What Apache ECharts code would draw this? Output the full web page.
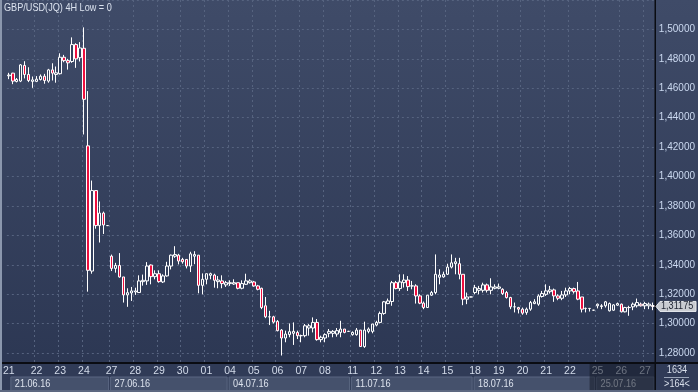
<!DOCTYPE html>
<html><head><meta charset="utf-8">
<script src="https://cdn.jsdelivr.net/npm/echarts@6/dist/echarts.min.js"></script>
<style>html,body{margin:0;padding:0;background:#35415e;overflow:hidden}#c{width:698px;height:392px}</style>
</head><body><div id="c"></div>
<script>
// ---------- data ----------
const titleText = 'GBP/USD(JQ) 4H Low = 0';
const dayLabels = ['21','22','23','24','27','28','29','30','01','04','05','06','07','08','11','12','13','14','15','18','19','20','21','22','25','26','27'];
const barsPerDay = [7,6,6,7,6,6,6,6,6,6,6,6,6,7,6,6,6,6,7,6,6,6,6,7,6,6,3];
const weekLabels = ['21.06.16','27.06.16','04.07.16','11.07.16','18.07.16','25.07.16'];
const weekStartDay = [0,4,9,14,19,24];
const yMin = 1.26, yMax = 1.52, yStep = 0.02;
const lastPrice = 1.31175;
const counterTop = '1634', counterBottom = '>164<';

const openP = [1.4685,1.4703,1.4646,1.4649,1.4755,1.4694,1.4647,1.4647,1.4660,1.4682,
1.4649,1.4725,1.4694,1.4699,1.4811,1.4788,1.4782,1.4897,1.4808,1.4872,
1.4209,1.3358,1.3905,1.3667,1.3752,1.3667,1.3459,1.3376,1.3396,1.3318,
1.3196,1.3209,1.3216,1.3212,1.3286,1.3291,1.3399,1.3320,1.3340,1.3284,
1.3325,1.3392,1.3459,1.3466,1.3437,1.3437,1.3392,1.3459,1.3466,1.3261,
1.3302,1.3329,1.3331,1.3286,1.3291,1.3264,1.3273,1.3270,1.3279,1.3241,
1.3268,1.3279,1.3284,1.3257,1.3241,1.3122,1.3047,1.3047,1.3016,1.2957,
1.2903,1.2926,1.2935,1.2941,1.2919,1.2919,1.2971,1.2971,1.3009,1.2892,
1.2903,1.2935,1.2935,1.2930,1.2941,1.2964,1.2948,1.2926,1.2926,1.2957,
1.2845,1.2948,1.2948,1.2991,1.3009,1.3070,1.3137,1.3151,1.3279,1.3239,
1.3279,1.3297,1.3257,1.3257,1.3189,1.3140,1.3110,1.3194,1.3212,1.3316,
1.3318,1.3336,1.3385,1.3408,1.3408,1.3336,1.3167,1.3182,1.3212,1.3227,
1.3227,1.3264,1.3227,1.3241,1.3241,1.3234,1.3212,1.3178,1.3115,1.3110,
1.3099,1.3077,1.3099,1.3137,1.3133,1.3185,1.3200,1.3218,1.3230,1.3189,
1.3173,1.3196,1.3223,1.3239,1.3223,1.3182,1.3104,1.3104,1.3092,1.3122,
1.3117,1.3122,1.3088,1.3092,1.3126,1.3133,1.3081,1.3110,1.3115,1.3122,
1.3133,1.3122,1.3122,1.3124];
const closeP = [1.4690,1.4649,1.4660,1.4759,1.4694,1.4653,1.4657,1.4662,1.4682,1.4653,
1.4725,1.4703,1.4705,1.4811,1.4788,1.4773,1.4897,1.4800,1.4874,1.4525,
1.3363,1.3905,1.3667,1.3752,1.3671,1.3667,1.3376,1.3396,1.3318,1.3196,
1.3211,1.3223,1.3223,1.3291,1.3295,1.3392,1.3320,1.3340,1.3286,1.3325,
1.3392,1.3466,1.3470,1.3426,1.3421,1.3392,1.3475,1.3470,1.3261,1.3302,
1.3340,1.3340,1.3295,1.3297,1.3273,1.3279,1.3279,1.3279,1.3241,1.3273,
1.3291,1.3291,1.3257,1.3234,1.3110,1.3047,1.3047,1.3011,1.2953,1.2903,
1.2930,1.2946,1.2948,1.2919,1.2919,1.2986,1.2986,1.3009,1.2892,1.2908,
1.2926,1.2948,1.2948,1.2953,1.2964,1.2941,1.2948,1.2941,1.2957,1.2845,
1.2957,1.2964,1.2998,1.3009,1.3070,1.3149,1.3155,1.3279,1.3239,1.3284,
1.3297,1.3252,1.3257,1.3189,1.3140,1.3110,1.3194,1.3212,1.3336,1.3331,
1.3336,1.3385,1.3414,1.3421,1.3336,1.3167,1.3182,1.3182,1.3245,1.3239,
1.3264,1.3227,1.3250,1.3250,1.3250,1.3205,1.3178,1.3115,1.3115,1.3099,
1.3072,1.3099,1.3144,1.3149,1.3189,1.3205,1.3223,1.3230,1.3189,1.3173,
1.3196,1.3223,1.3239,1.3218,1.3167,1.3099,1.3104,1.3104,1.3092,1.3133,
1.3122,1.3149,1.3137,1.3128,1.3137,1.3081,1.3110,1.3110,1.3133,1.3144,
1.3122,1.3137,1.3133,1.31175];
const lowP = [1.4662,1.4628,1.4640,1.4642,1.4667,1.4642,1.4603,1.4642,1.4653,1.4631,
1.4638,1.4653,1.4638,1.4694,1.4777,1.4727,1.4773,1.4739,1.4782,1.4286,
1.3218,1.3340,1.3646,1.3552,1.3610,1.3664,1.3358,1.3347,1.3313,1.3144,
1.3115,1.3155,1.3196,1.3212,1.3259,1.3264,1.3268,1.3302,1.3279,1.3277,
1.3320,1.3369,1.3448,1.3403,1.3408,1.3376,1.3351,1.3405,1.3207,1.3200,
1.3268,1.3302,1.3245,1.3241,1.3241,1.3250,1.3257,1.3264,1.3234,1.3234,
1.3264,1.3273,1.3252,1.3227,1.3099,1.3038,1.2991,1.3002,1.2948,1.2784,
1.2874,1.2908,1.2856,1.2896,1.2874,1.2908,1.2919,1.2941,1.2885,1.2874,
1.2874,1.2908,1.2908,1.2912,1.2908,1.2935,1.2944,1.2919,1.2919,1.2845,
1.2836,1.2935,1.2935,1.2982,1.3002,1.3061,1.3133,1.3122,1.3234,1.3223,
1.3246,1.3223,1.3234,1.3137,1.3133,1.3099,1.3110,1.3189,1.3200,1.3268,
1.3313,1.3331,1.3376,1.3336,1.3302,1.3126,1.3133,1.3180,1.3200,1.3200,
1.3212,1.3212,1.3200,1.3234,1.3234,1.3196,1.3171,1.3099,1.3077,1.3070,
1.3061,1.3061,1.3088,1.3133,1.3122,1.3178,1.3189,1.3205,1.3149,1.3160,
1.3160,1.3182,1.3200,1.3205,1.3160,1.3077,1.3077,1.3083,1.3090,1.3104,
1.3099,1.3110,1.3083,1.3088,1.3122,1.3077,1.3077,1.3054,1.3092,1.3110,
1.3117,1.3099,1.3099,1.3092];
const highP = [1.4705,1.4705,1.4670,1.4765,1.4784,1.4743,1.4680,1.4683,1.4694,1.4698,
1.4732,1.4770,1.4748,1.4838,1.4827,1.4800,1.4946,1.4906,1.4914,1.5014,
1.4581,1.3973,1.3905,1.3831,1.3762,1.3669,1.3470,1.3414,1.3480,1.3318,
1.3241,1.3250,1.3245,1.3329,1.3334,1.3419,1.3403,1.3363,1.3363,1.3336,
1.3421,1.3470,1.3527,1.3475,1.3448,1.3437,1.3489,1.3493,1.3466,1.3342,
1.3340,1.3347,1.3340,1.3324,1.3329,1.3291,1.3295,1.3302,1.3279,1.3295,
1.3340,1.3302,1.3291,1.3264,1.3245,1.3182,1.3088,1.3054,1.3025,1.2964,
1.2953,1.3002,1.3009,1.2953,1.2926,1.2998,1.2998,1.3043,1.3032,1.2919,
1.2935,1.2964,1.2957,1.2971,1.3020,1.2964,1.2952,1.2948,1.2971,1.2957,
1.3014,1.2975,1.2998,1.3020,1.3083,1.3155,1.3171,1.3291,1.3291,1.3336,
1.3336,1.3324,1.3291,1.3268,1.3200,1.3151,1.3194,1.3223,1.3471,1.3370,
1.3354,1.3408,1.3471,1.3448,1.3448,1.3336,1.3212,1.3184,1.3264,1.3257,
1.3279,1.3273,1.3309,1.3268,1.3273,1.3241,1.3223,1.3183,1.3144,1.3115,
1.3110,1.3110,1.3155,1.3167,1.3200,1.3223,1.3268,1.3257,1.3239,1.3200,
1.3223,1.3245,1.3250,1.3245,1.3284,1.3182,1.3110,1.3106,1.3094,1.3137,
1.3133,1.3155,1.3144,1.3133,1.3144,1.3137,1.3115,1.3122,1.3144,1.3171,
1.3144,1.3149,1.3144,1.3144];

// ---------- build ----------
const FONT = "'Liberation Sans',Arial,sans-serif";
const categories = [];
const dayOfBar = [];
const dayStartIdx = [];
barsPerDay.forEach((n, d) => {
  dayStartIdx.push(categories.length);
  for (let k = 0; k < n; k++) { categories.push(dayLabels[d] + '#' + d + '-' + k); dayOfBar.push(d); }
});
const startSet = new Set(dayStartIdx);
const kData = openP.map((o, i) => [o, closeP[i], lowP[i], highP[i]]);
const isStart = (i) => startSet.has(i);
const fmtPrice = (v) => v.toFixed(5).replace('.', ',');

const chart = echarts.init(document.getElementById('c'), null, {renderer: 'canvas', width: 698, height: 392});
const gridLine = {color: '#56637f', type: [2, 3], width: 1};
chart.setOption({
  animation: false,
  backgroundColor: {type: 'linear', x: 0, y: 0, x2: 0, y2: 1,
    colorStops: [{offset: 0, color: '#3f4b68'}, {offset: 1, color: '#2b3652'}]},
  grid: {left: 2, right: 43, top: -2.6, bottom: 9.4},
  xAxis: [
    {type: 'category', data: categories, boundaryGap: true, z: 0,
     axisLine: {show: false}, axisTick: {show: false}, axisLabel: {show: false},
     splitLine: {show: true, interval: (i) => isStart(i) && i > 0, lineStyle: gridLine}},
    {type: 'category', data: categories, boundaryGap: true, position: 'bottom', offset: -19.6, z: 10,
     axisLine: {show: false}, axisTick: {show: false}, splitLine: {show: false},
     axisLabel: {interval: (i) => isStart(i), formatter: (v, i) => dayLabels[dayOfBar[i]],
       color: '#d3dbea', fontSize: 10.5, fontFamily: FONT, margin: 3}}
  ],
  yAxis: {type: 'value', position: 'right', min: yMin, max: yMax, interval: yStep, z: 0,
    axisLine: {show: false}, axisTick: {show: false},
    axisLabel: {formatter: (v) => (v < yMin + 0.001 || v > yMax - 0.001) ? '' : fmtPrice(v),
      color: '#cbd9f0', fontSize: 10, fontFamily: FONT, margin: 4},
    splitLine: {show: true, lineStyle: gridLine}},
  series: [{type: 'candlestick', data: kData, barWidth: 3, z: 3,
    itemStyle: {color: '#33405d', color0: '#ee0f3f', borderColor: '#ffffff', borderColor0: '#ffffff', borderWidth: 1}}]
});

// ---------- decorations positioned through the axes ----------
const px = (i) => chart.convertToPixel({xAxisIndex: 0}, i);
const band = px(1) - px(0);
const leftOf = (i) => px(i) - band / 2;
const yLast = chart.convertToPixel({yAxisIndex: 0}, lastPrice);
const axisX = 655, baseY = 363;
const SX = 0.83;
const txt = (text, x, y, size, fill, align, z) => ({type: 'text', z: z || 20, x: x, y: y, scaleX: SX,
  style: {text: text, fill: fill, font: size + 'px ' + FONT, verticalAlign: 'middle', align: align || 'left'}});
const g = [];
// bottom panel
g.push({type: 'rect', z: 1, shape: {x: 0, y: baseY, width: 698, height: 392 - baseY}, style: {fill: '#303b57'}});
// week boxes
weekLabels.forEach((w, k) => {
  const x0 = leftOf(dayStartIdx[weekStartDay[k]]) + (k === 0 ? 4 : 1);
  const x1 = k + 1 < weekLabels.length ? leftOf(dayStartIdx[weekStartDay[k + 1]]) : axisX;
  g.push({type: 'rect', z: 2, shape: {x: x0, y: 377, width: x1 - x0 - 1, height: 14},
    style: {fill: '#45516c', stroke: '#5b6782', lineWidth: 1}});
  g.push(txt(w, x0 + 4, 384, 11, '#dde3ee', 'left', 12));
});
// shaded current week
const shadeX = leftOf(dayStartIdx[weekStartDay[5]]) - 6;
g.push({type: 'rect', z: 15, shape: {x: shadeX, y: baseY + 1, width: axisX - shadeX, height: 392 - baseY - 1}, style: {fill: 'rgba(22,27,40,0.55)'}});
// axis lines
g.push({type: 'rect', z: 20, shape: {x: 0, y: baseY - 1, width: 698, height: 2}, style: {fill: '#0a0c12'}});
g.push({type: 'rect', z: 20, shape: {x: axisX - 0.5, y: 0, width: 1.5, height: 392}, style: {fill: '#0a0c12'}});
g.push({type: 'rect', z: 20, shape: {x: 0, y: 0, width: 2, height: 392}, style: {fill: '#8b97ad'}});
g.push({type: 'rect', z: 20, shape: {x: 0, y: 390, width: 698, height: 2}, style: {fill: '#5d6880'}});
// counter box
g.push(txt(counterTop, 677, 370, 11, '#d8dfeb', 'center'));
g.push({type: 'rect', z: 20, shape: {x: 664, y: 377, width: 25, height: 1}, style: {fill: '#9aa5b8'}});
g.push(txt(counterBottom, 677, 384, 11, '#d8dfeb', 'center'));
// price tag
g.push({type: 'polygon', z: 20, shape: {points: [[656, yLast], [660, yLast - 5], [696, yLast - 5], [696, yLast + 5], [660, yLast + 5]]},
  style: {fill: '#c9ccd2', stroke: '#e8eaee', lineWidth: 1}});
g.push(txt(fmtPrice(lastPrice), 661, yLast, 11, '#1c2230', 'left', 21));
// title
g.push(txt(titleText, 4, 8, 11, '#dbe2ee', 'left'));
chart.setOption({graphic: g});
</script></body></html>
